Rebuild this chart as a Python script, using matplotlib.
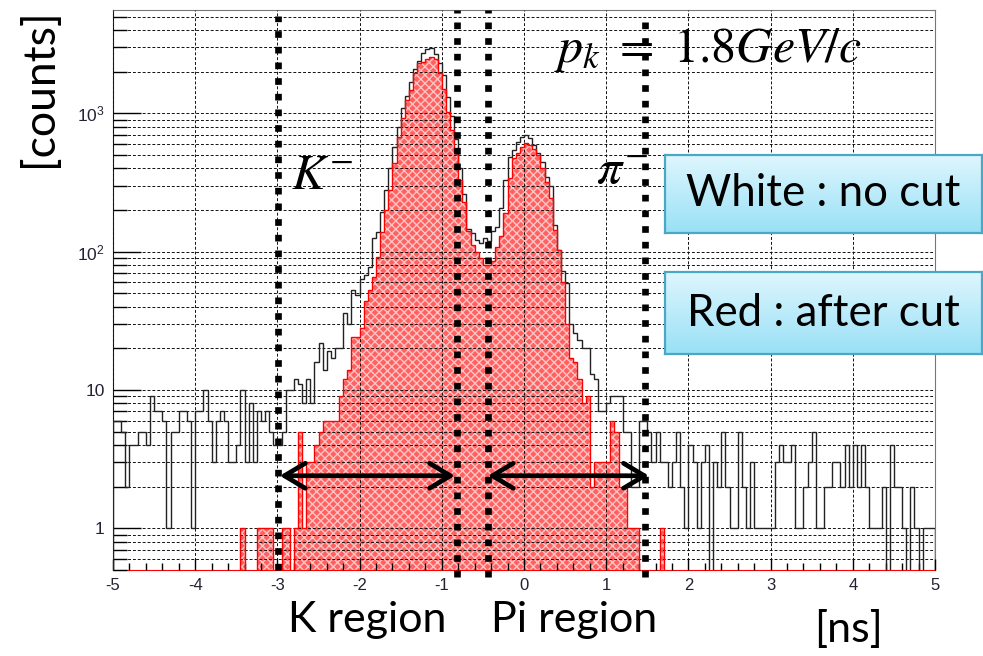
import numpy as np
import matplotlib.pyplot as plt
from matplotlib.ticker import FixedLocator, FixedFormatter, LogLocator, NullFormatter, MultipleLocator

plt.rcParams['mathtext.fontset'] = 'stix'
plt.rcParams['axes.unicode_minus'] = False

# time difference histogram, 200 bins of 0.05 ns between -5 and 5 ns
x_min, x_max, n_bins = -5.0, 5.0, 200

# white histogram : no cut
no_cut = [
    6, 6, 5, 2, 4, 4, 5, 5, 4, 9, 7, 7, 6, 1, 5, 5, 7, 7, 6, 1,
    7, 7, 10, 6, 3, 6, 7, 6, 3, 3, 4, 10, 3, 8, 3, 7, 6, 7, 5, 4,
    4, 5, 10, 10, 12, 11, 8, 12, 8, 16, 22, 14, 19, 17, 20, 20, 36, 30, 53, 49,
    63, 68, 78, 126, 139, 192, 278, 400, 573, 800,
    1087, 1340, 1690, 2100, 2400, 2750, 2900, 2950, 2700, 2300,
    1900, 1318, 950, 650, 400, 260, 145, 136, 122, 115,
    125, 120, 140, 151, 207, 330, 486, 543, 623, 678,
    697, 660, 590, 520, 447, 348, 300, 156, 103, 72,
    59, 30, 26, 23, 20, 20, 13, 12, 7, 7, 8, 9, 9, 9, 5, 5, 2, 2, 6, 6,
    5, 3, 5, 3, 3, 2, 3, 5, 2, 1, 4, 3, 1, 3, 4, 0, 3, 2, 5, 2,
    1, 1, 5, 2, 1, 3, 1, 1, 1, 1, 1, 3, 4, 3, 3, 4, 1, 1, 2, 3,
    5, 1, 1, 2, 2, 3, 3, 2, 4, 2, 4, 2, 4, 2, 1, 1, 1, 2, 0, 4,
    2, 2, 1, 0, 2, 1, 0, 1, 1, 1,
]

# red histogram : after cut
after_cut = [
    0, 0, 0, 0, 0, 0, 0, 0, 0, 0, 0, 0, 0, 0, 0, 0, 0, 0, 0, 0,
    0, 0, 0, 0, 0, 0, 0, 0, 0, 0, 0, 1, 0, 0, 0, 1, 1, 1, 1, 0,
    0, 1, 1, 0, 1, 5, 1, 3, 3, 4, 5, 6, 6, 6, 6, 9, 12, 14, 24, 24,
    28, 44, 53, 66, 92, 139, 199, 280, 440, 678,
    920, 1250, 1470, 1950, 2300, 2360, 2450, 2570, 2450, 1950,
    1500, 1030, 760, 513, 330, 230, 140, 112, 100, 90,
    80, 80, 85, 108, 130, 190, 340, 474, 520, 574,
    607, 590, 550, 500, 400, 320, 243, 143, 103, 60,
    30, 17, 16, 12, 8, 9, 2, 3, 3, 3, 3, 6, 5, 2, 2, 1, 1, 1, 0, 0,
    0, 0, 0, 1, 0, 0, 0, 0, 0, 0, 0, 0, 0, 0, 0, 0, 0, 0, 0, 0,
    0, 0, 0, 0, 0, 0, 0, 0, 0, 0, 0, 0, 0, 0, 0, 0, 0, 0, 0, 0,
    0, 0, 0, 0, 0, 0, 0, 0, 0, 0, 0, 0, 0, 0, 0, 0, 0, 0, 0, 0,
    0, 0, 0, 0, 0, 0, 0, 0, 0, 0,
]

# cut positions [ns] and region arrows
cut_lines = [-2.99, -0.82, -0.44, 1.47]
k_region = (-2.97, -0.84)
pi_region = (-0.44, 1.52)
arrow_y = 2.4

y_ticks = [1, 10, 100, 1000]
y_tick_labels = ['1', '10', r'$\mathregular{10^{2}}$', r'$\mathregular{10^{3}}$']
x_ticks = [-5, -4, -3, -2, -1, 0, 1, 2, 3, 4, 5]

y_min, y_max = 0.5, 5580

W, H = 983, 656
fig = plt.figure(figsize=(W / 100, H / 100), dpi=100)
ax = fig.add_axes([113 / W, 86 / H, 822 / W, 560 / H])

edges = np.linspace(x_min, x_max, n_bins + 1)
black = np.clip(np.array(no_cut, float), 0.3, None)
red = np.clip(np.array(after_cut, float), 0.3, None)

ax.stairs(black, edges, baseline=0.3, color='#222222', lw=1.0, zorder=3)
ax.stairs(red, edges, baseline=0.3, fill=True, facecolor='#ff6060',
          edgecolor='#ffc4c4', hatch='xxxx', linewidth=0, zorder=2)
ax.stairs(red, edges, baseline=0.3, color='red', lw=1.0, zorder=3.5)

ax.set_yscale('log')
ax.set_xlim(x_min, x_max)
ax.set_ylim(y_min, y_max)
ax.set_axisbelow(False)

ax.xaxis.set_major_locator(FixedLocator(x_ticks))
ax.xaxis.set_minor_locator(MultipleLocator(0.2))
ax.yaxis.set_major_locator(FixedLocator(y_ticks))
ax.yaxis.set_major_formatter(FixedFormatter(y_tick_labels))
ax.yaxis.set_minor_locator(LogLocator(base=10, subs=np.arange(2, 10)))
ax.yaxis.set_minor_formatter(NullFormatter())

grid_style = dict(color='#111111', lw=0.7, ls=(0, (3, 2)))
ax.grid(True, which='major', axis='x', **grid_style)
ax.grid(True, which='both', axis='y', **grid_style)

ax.tick_params(axis='x', which='major', direction='in', length=8, width=1,
               top=False, pad=6, labelsize=12)
ax.tick_params(axis='x', which='minor', direction='in', length=5, width=1, top=False)
ax.tick_params(axis='y', which='major', direction='in', length=20, width=1,
               right=False, pad=6, labelsize=12.5)
ax.tick_params(axis='y', which='minor', direction='in', length=10, width=1, right=False)
for lab in ax.get_xticklabels() + ax.get_yticklabels():
    lab.set_family(['Liberation Sans', 'DejaVu Sans'])
    lab.set_math_fontfamily('dejavusans')
    lab.set_color('#222233')

ax.spines['bottom'].set_color('red')
ax.spines['left'].set_color('#222222')
ax.spines['top'].set_color('#777777')
ax.spines['right'].set_color('#777777')

# dotted cut lines
trans = ax.get_xaxis_transform()
for x, y0, y1 in zip(cut_lines, [0.0, -0.012, -0.012, -0.012], [0.99, 1.0, 1.0, 0.995]):
    ax.plot([x, x], [y0, y1], transform=trans, color='black', lw=4.8,
            ls=(0, (1, 1.35)), dash_capstyle='butt', clip_on=False, zorder=6)

# region arrows
for xa, xb in [k_region, pi_region]:
    ax.annotate('', xy=(xb, arrow_y), xytext=(xa, arrow_y),
                arrowprops=dict(arrowstyle='<->,head_length=15,head_width=9',
                                lw=3.4, color='black', mutation_scale=1,
                                shrinkA=0, shrinkB=0), zorder=7)

font = ['Lato', 'DejaVu Sans']


def fx(px):
    return px / W


def fy(py):
    return 1 - py / H


fig.text(fx(40), fy(88), '[counts]', rotation=90, ha='center', va='center',
         family=font, size=32)
fig.text(fx(367), fy(620), 'K region', ha='center', va='center', family=font, size=31)
fig.text(fx(574), fy(620), 'Pi region', ha='center', va='center', family=font, size=31)
fig.text(fx(848), fy(630), '[ns]', ha='center', va='center', family=font, size=31)

fig.text(fx(708), fy(50), r'$p_k\ =\ 1.8GeV/c$', ha='center', va='center', size=36)
fig.text(fx(322), fy(175), r'$K^{-}$', ha='center', va='center', size=36)
fig.text(fx(622), fy(170), r'$\pi^{-}$', ha='center', va='center', size=36)

# legend boxes with a light blue gradient
grad = np.linspace(0, 1, 64).reshape(-1, 1)
top_c = np.array([0.87, 0.965, 0.995])
bot_c = np.array([0.60, 0.88, 0.965])
img = top_c[None, None, :] * (1 - grad[..., None]) + bot_c[None, None, :] * grad[..., None]

for (bx0, by0, bx1, by1), label in [((665, 155, 982, 233), 'White : no cut'),
                                      ((665, 272, 982, 354), 'Red : after cut')]:
    bax = fig.add_axes([fx(bx0), fy(by1), (bx1 - bx0) / W, (by1 - by0) / H], zorder=10)
    bax.imshow(img, aspect='auto', extent=(0, 1, 0, 1))
    bax.set_xticks([])
    bax.set_yticks([])
    for s in bax.spines.values():
        s.set_color('#4aa8c4')
        s.set_linewidth(1.6)
    bax.text(0.5, 0.5, label, ha='center', va='center', family=font, size=31.5,
             transform=bax.transAxes)

fig.savefig('out.png', dpi=100)
